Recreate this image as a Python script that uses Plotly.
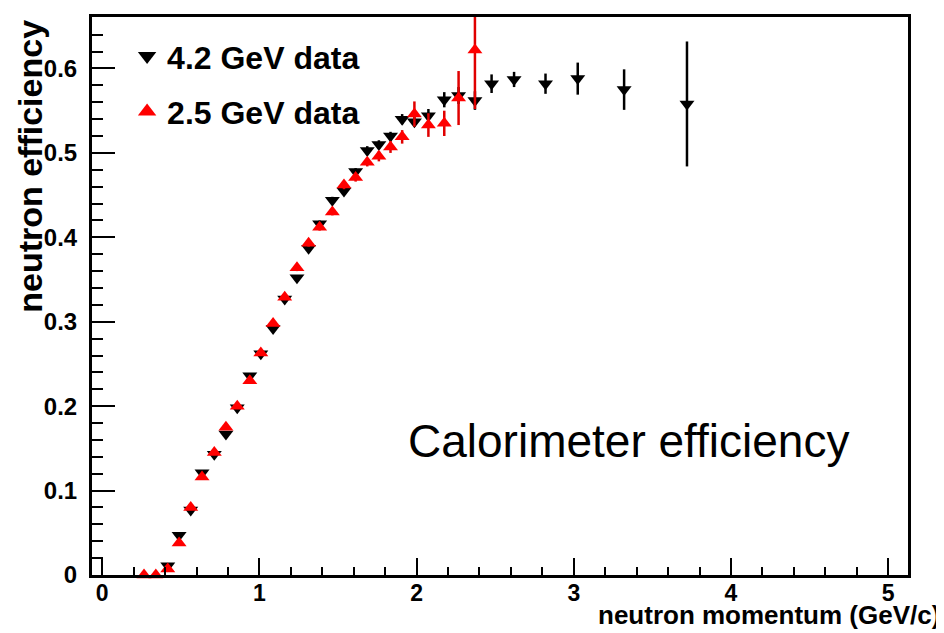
import plotly.graph_objects as go

# momentum bins (GeV/c)
p_common = [0.266, 0.341, 0.417, 0.489, 0.563, 0.635, 0.713, 0.787, 0.859, 0.939,
            1.009, 1.087, 1.161, 1.239, 1.313, 1.383, 1.464, 1.538, 1.612, 1.686,
            1.760, 1.834, 1.908, 1.986, 2.075, 2.176, 2.267, 2.371]
p_high = [2.477, 2.620, 2.820, 3.025, 3.320, 3.720]

# 2.5 GeV data (red, up triangles)
eff_25 = [0.000, 0.000, 0.007, 0.038, 0.080, 0.116, 0.145, 0.175, 0.200, 0.230,
          0.263, 0.298, 0.329, 0.364, 0.393, 0.412, 0.430, 0.462, 0.471, 0.489,
          0.496, 0.507, 0.519, 0.546, 0.533, 0.535, 0.565, 0.622]
err_25_up = [0.003, 0.003, 0.003, 0.003, 0.003, 0.003, 0.003, 0.003, 0.003, 0.003,
             0.003, 0.003, 0.003, 0.004, 0.004, 0.004, 0.004, 0.005, 0.005, 0.005,
             0.006, 0.007, 0.008, 0.015, 0.014, 0.015, 0.032, 0.039]
err_25_dn = [0.003, 0.003, 0.003, 0.003, 0.003, 0.003, 0.003, 0.003, 0.003, 0.003,
             0.003, 0.003, 0.003, 0.004, 0.004, 0.004, 0.004, 0.005, 0.005, 0.005,
             0.006, 0.007, 0.008, 0.015, 0.014, 0.015, 0.032, 0.070]

# 4.2 GeV data (black, down triangles)
p_42 = p_common[2:] + p_high
eff_42 = [0.011, 0.047, 0.077, 0.121, 0.143, 0.167, 0.198, 0.236, 0.262, 0.292,
          0.327, 0.352, 0.387, 0.416, 0.444, 0.455, 0.478, 0.503, 0.510, 0.520,
          0.540, 0.537, 0.544, 0.563, 0.568, 0.562,
          0.582, 0.587, 0.582, 0.588, 0.575, 0.558]
err_42 = [0.003, 0.003, 0.003, 0.003, 0.003, 0.003, 0.003, 0.003, 0.003, 0.003,
          0.003, 0.003, 0.003, 0.004, 0.004, 0.004, 0.004, 0.005, 0.005, 0.005,
          0.006, 0.006, 0.008, 0.009, 0.010, 0.011,
          0.011, 0.009, 0.012, 0.019, 0.024, 0.074]

FONT = "Liberation Sans"

fig = go.Figure()

fig.add_trace(go.Scatter(
    x=p_42, y=eff_42, mode='markers', showlegend=False,
    marker=dict(symbol='triangle-down', size=13, color='black'),
    error_y=dict(type='data', array=err_42, color='black', thickness=2.5, width=0)))

fig.add_trace(go.Scatter(
    x=p_common, y=eff_25, mode='markers', showlegend=False, cliponaxis=False,
    marker=dict(symbol='triangle-up', size=13, color='#ff0000'),
    error_y=dict(type='data', symmetric=False, array=err_25_up, arrayminus=err_25_dn,
                 color='#e00000', thickness=2.5, width=0)))

# legend entries only
fig.add_trace(go.Scatter(
    x=[None], y=[None], mode='markers', name='4.2 GeV data', legendgroup='a',
    marker=dict(symbol='triangle-down', size=16, color='black')))
fig.add_trace(go.Scatter(
    x=[None], y=[None], mode='markers', name='2.5 GeV data', legendgroup='b',
    marker=dict(symbol='triangle-up', size=16, color='#ff0000')))

fig.update_xaxes(
    range=[-0.065, 5.126], tick0=0, dtick=1, ticks='inside', ticklen=17, tickwidth=2,
    tickcolor='black', showline=True, linecolor='black', linewidth=3, mirror=True,
    showgrid=False, zeroline=False, ticklabelstandoff=-5,
    tickfont=dict(family=FONT, size=23, color='black', weight='bold'),
    minor=dict(ticks='inside', ticklen=8, dtick=0.2, tickwidth=2, tickcolor='black',
               showgrid=False))
fig.update_yaxes(
    range=[0, 0.661], tick0=0, dtick=0.1, ticks='inside', ticklen=23, tickwidth=2,
    tickcolor='black', showline=True, linecolor='black', linewidth=3, mirror=True,
    showgrid=False, zeroline=False, ticklabelstandoff=7,
    tickfont=dict(family=FONT, size=24, color='black', weight='bold'),
    minor=dict(ticks='inside', ticklen=11, dtick=0.02, tickwidth=2, tickcolor='black',
               showgrid=False))

fig.add_annotation(text='neutron efficiency', xref='paper', yref='paper',
                   x=-0.077, y=0.998, xanchor='center', yanchor='top', textangle=-90,
                   showarrow=False, font=dict(family=FONT, size=34, color='black', weight='bold'))
fig.add_annotation(text='neutron momentum (GeV/c)', xref='paper', yref='paper',
                   x=1.042, y=-0.072, xanchor='right', yanchor='middle',
                   showarrow=False, font=dict(family=FONT, size=26, color='black', weight='bold'))
fig.add_annotation(text='Calorimeter efficiency', xref='paper', yref='paper',
                   x=0.385, y=0.24, xanchor='left', yanchor='middle',
                   showarrow=False, font=dict(family=FONT, size=46, color='black'))

# the page body adds an 8 px offset, so the margins are shifted by that amount
fig.update_layout(
    width=944, height=633, plot_bgcolor='white', paper_bgcolor='white',
    margin=dict(l=84, r=44, t=6, b=66),
    legend=dict(x=0.043, y=0.979, xanchor='left', yanchor='top', bgcolor='rgba(0,0,0,0)',
                traceorder='grouped', tracegroupgap=11,
                font=dict(family=FONT, size=32, color='black', weight='bold')),
)

fig.write_html("out.html")
